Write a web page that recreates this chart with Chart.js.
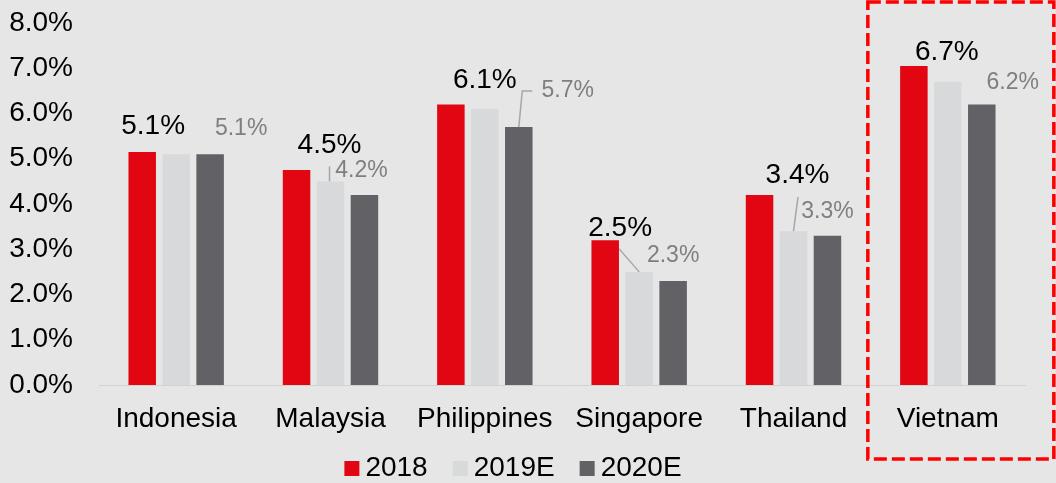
<!DOCTYPE html>
<html>
<head>
<meta charset="utf-8">
<script src="https://cdn.jsdelivr.net/npm/chart.js@4.4.1/dist/chart.umd.min.js"></script>
<style>
  html, body { margin: 0; padding: 0; background: #e6e6e6; }
  canvas { display: block; }
</style>
</head>
<body>
<canvas id="gdpChart" width="1056" height="483"></canvas>
<script>
const countries = ['Indonesia', 'Malaysia', 'Philippines', 'Singapore', 'Thailand', 'Vietnam'];
const growth2018 = [5.15, 4.75, 6.2, 3.2, 4.2, 7.05];
const growth2019E = [5.1, 4.5, 6.1, 2.5, 3.4, 6.7];
const growth2020E = [5.1, 4.2, 5.7, 2.3, 3.3, 6.2];
const yTicks = [0, 1, 2, 3, 4, 5, 6, 7, 8];

const FONT = "'Liberation Sans', Arial, sans-serif";

// label placement, relative to the top centre of each bar (px)
const labelNudge = {
    1: [[-23, -28], [-1, -36], [0, -29], [-19, -44], [4, -56], [-1, -30]],
    2: [[31, -26], [-3, -24], [49, -36], [0, -25], [0, -24], [31, -22]]
};
// leader lines, points relative to the bar top
const leaders = {
    1: { 1: [[-1, -15], [-1, 0]], 3: [[-20, -23], [0, 0]], 4: [[4.5, -34], [0, 0]] },
    2: { 2: [[13.5, -36], [3.5, -36], [0, 0]] }
};
const labelStyle = {
    1: { size: 28, color: '#000000' },
    2: { size: 23, color: '#7f7f7f' }
};

const valueLabels = {
    id: 'valueLabels',
    afterDatasetsDraw(chart) {
        const ctx = chart.ctx;
        ctx.save();
        [1, 2].forEach(di => {
            const meta = chart.getDatasetMeta(di);
            const data = chart.data.datasets[di].data;
            meta.data.forEach((bar, i) => {
                const lines = leaders[di][i];
                if (lines) {
                    ctx.strokeStyle = '#a6a6a6';
                    ctx.lineWidth = 1.5;
                    ctx.beginPath();
                    lines.forEach((p, k) => {
                        const px = bar.x + p[0], py = bar.y + p[1];
                        if (k === 0) ctx.moveTo(px, py); else ctx.lineTo(px, py);
                    });
                    ctx.stroke();
                }
                const n = labelNudge[di][i];
                ctx.font = labelStyle[di].size + 'px ' + FONT;
                ctx.fillStyle = labelStyle[di].color;
                ctx.textAlign = 'center';
                ctx.textBaseline = 'middle';
                ctx.fillText(data[i].toFixed(1) + '%', bar.x + n[0], bar.y + n[1]);
            });
        });
        ctx.restore();
    }
};

// legend drawn by hand so the box/text gaps match the original
const bottomLegend = {
    id: 'bottomLegend',
    afterDraw(chart) {
        const ctx = chart.ctx;
        const ds = chart.data.datasets;
        ctx.save();
        ctx.font = '28px ' + FONT;
        ctx.textBaseline = 'middle';
        ctx.textAlign = 'left';
        const box = 15, gap = 6, spacing = 25;
        let total = 0;
        ds.forEach((d, i) => {
            total += box + gap + ctx.measureText(d.label).width + (i < ds.length - 1 ? spacing : 0);
        });
        let x = 513 - total / 2;
        const y = 468;
        ds.forEach(d => {
            ctx.fillStyle = d.backgroundColor;
            ctx.fillRect(x, y - 7, box, box);
            x += box + gap;
            ctx.fillStyle = '#000000';
            ctx.fillText(d.label, x, y);
            x += ctx.measureText(d.label).width + spacing;
        });
        ctx.restore();
    }
};

const highlightBox = {
    id: 'highlightBox',
    afterDraw(chart) {
        const ctx = chart.ctx;
        const cx = chart.scales.x.getPixelForValue(countries.length - 1);
        ctx.save();
        ctx.strokeStyle = '#ff0000';
        ctx.lineWidth = 3.5;
        ctx.setLineDash([13, 5]);
        ctx.strokeRect(cx - 80, 2, 186, 457);
        ctx.restore();
    }
};

new Chart(document.getElementById('gdpChart'), {
    type: 'bar',
    data: {
        labels: countries,
        datasets: [
            { label: '2018', data: growth2018, backgroundColor: '#e20613' },
            { label: '2019E', data: growth2019E, backgroundColor: '#d8d9db' },
            { label: '2020E', data: growth2020E, backgroundColor: '#616166' }
        ]
    },
    options: {
        responsive: false,
        animation: false,
        categoryPercentage: 0.66,
        barPercentage: 0.81,
        layout: { padding: { left: 9, right: 31, top: 0, bottom: 0 } },
        scales: {
            y: {
                min: 0,
                max: 8,
                afterBuildTicks: (scale) => { scale.ticks = yTicks.map(v => ({ value: v })); },
                afterFit: (scale) => {
                    scale.width = 90;
                    scale.paddingTop = 23;
                    scale.paddingBottom = 0;
                },
                grid: { display: false, drawTicks: false },
                border: { display: false },
                ticks: {
                    padding: 26,
                    color: '#000000',
                    font: { family: FONT, size: 28 },
                    callback: (v) => v.toFixed(1) + '%'
                }
            },
            x: {
                afterFit: (scale) => { scale.height = 98; },
                grid: { display: false, drawTicks: false },
                border: { display: true, color: '#d2d2d2', width: 1 },
                ticks: {
                    padding: 17,
                    color: '#000000',
                    font: { family: FONT, size: 28 }
                }
            }
        },
        plugins: {
            legend: { display: false },
            tooltip: { enabled: false }
        }
    },
    plugins: [valueLabels, bottomLegend, highlightBox]
});
</script>
</body>
</html>
